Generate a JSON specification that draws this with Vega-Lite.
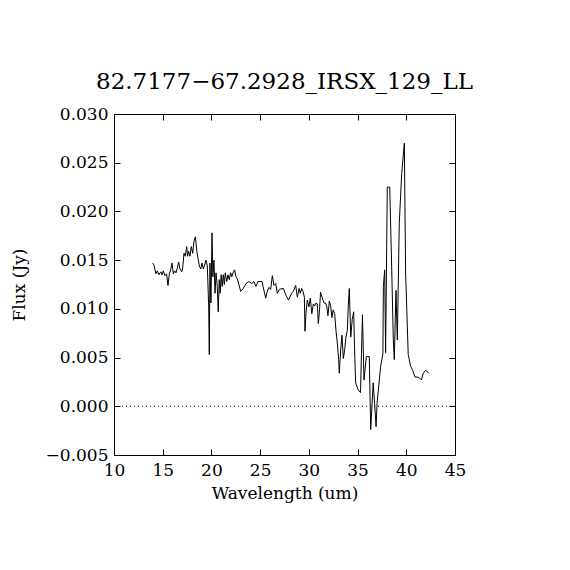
{
  "$schema": "https://vega.github.io/schema/vega-lite/v6.json",
  "width": 341,
  "height": 341,
  "autosize": {"type": "none"},
  "padding": {"left": 114, "top": 114, "right": 115, "bottom": 115},
  "background": "white",
  "title": {
    "text": "82.7177−67.2928_IRSX_129_LL",
    "font": "DejaVu Serif",
    "fontSize": 23,
    "fontWeight": "normal",
    "color": "black",
    "anchor": "middle",
    "offset": 11
  },
  "config": {
    "view": {"stroke": "black", "strokeWidth": 1},
    "axis": {
      "domain": false,
      "grid": false,
      "tickColor": "black",
      "tickSize": -6,
      "labelFont": "DejaVu Serif",
      "labelFontSize": 17,
      "labelColor": "black",
      "labelFlush": false,
      "labelOverlap": false,
      "titleFont": "DejaVu Serif",
      "titleFontSize": 17,
      "titleFontWeight": "normal",
      "titleColor": "black"
    }
  },
  "data": {
    "values": [
      {"w": 13.97, "f": 0.0147}, {"w": 14.1, "f": 0.0145}, {"w": 14.3, "f": 0.0136}, {"w": 14.45, "f": 0.0139},
      {"w": 14.6, "f": 0.0135}, {"w": 14.8, "f": 0.0138}, {"w": 14.93, "f": 0.0135}, {"w": 15.06, "f": 0.0139},
      {"w": 15.23, "f": 0.0134}, {"w": 15.4, "f": 0.0136}, {"w": 15.54, "f": 0.0124}, {"w": 15.68, "f": 0.0136},
      {"w": 15.82, "f": 0.014}, {"w": 15.95, "f": 0.0147}, {"w": 16.09, "f": 0.0136}, {"w": 16.23, "f": 0.0139},
      {"w": 16.36, "f": 0.0137}, {"w": 16.5, "f": 0.0142}, {"w": 16.64, "f": 0.0148}, {"w": 16.77, "f": 0.0141},
      {"w": 16.95, "f": 0.0138}, {"w": 17.05, "f": 0.0142}, {"w": 17.18, "f": 0.0157}, {"w": 17.32, "f": 0.0154},
      {"w": 17.46, "f": 0.0164}, {"w": 17.55, "f": 0.0154}, {"w": 17.66, "f": 0.0159}, {"w": 17.8, "f": 0.0154},
      {"w": 17.93, "f": 0.0164}, {"w": 18.08, "f": 0.0157}, {"w": 18.2, "f": 0.0169}, {"w": 18.35, "f": 0.0174},
      {"w": 18.5, "f": 0.0159}, {"w": 18.62, "f": 0.0152}, {"w": 18.76, "f": 0.0144}, {"w": 18.9, "f": 0.0141},
      {"w": 19.03, "f": 0.0147}, {"w": 19.17, "f": 0.0141}, {"w": 19.3, "f": 0.0145}, {"w": 19.44, "f": 0.015},
      {"w": 19.58, "f": 0.0144}, {"w": 19.72, "f": 0.0102}, {"w": 19.78, "f": 0.0053}, {"w": 19.85, "f": 0.0147},
      {"w": 19.95, "f": 0.0106}, {"w": 20.06, "f": 0.0178}, {"w": 20.15, "f": 0.0133}, {"w": 20.26, "f": 0.015},
      {"w": 20.37, "f": 0.0116}, {"w": 20.47, "f": 0.0137}, {"w": 20.6, "f": 0.0123}, {"w": 20.7, "f": 0.0097},
      {"w": 20.8, "f": 0.013}, {"w": 20.9, "f": 0.0116}, {"w": 21.0, "f": 0.0135}, {"w": 21.1, "f": 0.0123},
      {"w": 21.22, "f": 0.0135}, {"w": 21.32, "f": 0.0125}, {"w": 21.42, "f": 0.0137}, {"w": 21.57, "f": 0.0128},
      {"w": 21.7, "f": 0.0135}, {"w": 21.83, "f": 0.013}, {"w": 21.97, "f": 0.0137}, {"w": 22.1, "f": 0.0133},
      {"w": 22.25, "f": 0.0138}, {"w": 22.38, "f": 0.014}, {"w": 22.52, "f": 0.0133}, {"w": 22.65, "f": 0.0131},
      {"w": 22.82, "f": 0.0125}, {"w": 23.0, "f": 0.0118}, {"w": 23.27, "f": 0.0121}, {"w": 23.55, "f": 0.0126},
      {"w": 23.83, "f": 0.0128}, {"w": 24.13, "f": 0.0126}, {"w": 24.37, "f": 0.0128}, {"w": 24.57, "f": 0.0123},
      {"w": 24.78, "f": 0.0128}, {"w": 25.2, "f": 0.0128}, {"w": 25.3, "f": 0.0123}, {"w": 25.57, "f": 0.0111},
      {"w": 25.73, "f": 0.0118}, {"w": 25.9, "f": 0.0122}, {"w": 26.08, "f": 0.012}, {"w": 26.25, "f": 0.0134},
      {"w": 26.42, "f": 0.0124}, {"w": 26.6, "f": 0.0126}, {"w": 26.76, "f": 0.0116}, {"w": 26.97, "f": 0.012},
      {"w": 27.38, "f": 0.0121}, {"w": 27.65, "f": 0.0114}, {"w": 27.9, "f": 0.0109}, {"w": 28.24, "f": 0.0116},
      {"w": 28.4, "f": 0.0118}, {"w": 28.65, "f": 0.0124}, {"w": 28.82, "f": 0.0112}, {"w": 29.0, "f": 0.0121},
      {"w": 29.12, "f": 0.0116}, {"w": 29.27, "f": 0.0121}, {"w": 29.4, "f": 0.0118}, {"w": 29.54, "f": 0.0112},
      {"w": 29.6, "f": 0.0077}, {"w": 29.7, "f": 0.0095}, {"w": 29.84, "f": 0.0109}, {"w": 30.0, "f": 0.0102},
      {"w": 30.15, "f": 0.0111}, {"w": 30.3, "f": 0.0095}, {"w": 30.46, "f": 0.0105}, {"w": 30.6, "f": 0.0103},
      {"w": 30.73, "f": 0.0106}, {"w": 30.87, "f": 0.0105}, {"w": 30.97, "f": 0.0085}, {"w": 31.07, "f": 0.0095},
      {"w": 31.2, "f": 0.0117}, {"w": 31.35, "f": 0.0112}, {"w": 31.55, "f": 0.0106}, {"w": 31.7, "f": 0.0106},
      {"w": 31.83, "f": 0.0103}, {"w": 31.96, "f": 0.0093}, {"w": 32.1, "f": 0.0108}, {"w": 32.24, "f": 0.0103},
      {"w": 32.37, "f": 0.0091}, {"w": 32.5, "f": 0.0099}, {"w": 32.65, "f": 0.0095}, {"w": 32.78, "f": 0.0078},
      {"w": 32.92, "f": 0.0065}, {"w": 33.06, "f": 0.0048}, {"w": 33.12, "f": 0.0034}, {"w": 33.27, "f": 0.0058},
      {"w": 33.4, "f": 0.0073}, {"w": 33.54, "f": 0.0049}, {"w": 33.68, "f": 0.0058}, {"w": 33.8, "f": 0.0071},
      {"w": 33.95, "f": 0.0078}, {"w": 34.05, "f": 0.0104}, {"w": 34.15, "f": 0.0121}, {"w": 34.3, "f": 0.0071},
      {"w": 34.45, "f": 0.0089}, {"w": 34.6, "f": 0.0097}, {"w": 34.68, "f": 0.0063}, {"w": 34.8, "f": 0.0024},
      {"w": 35.05, "f": 0.0017}, {"w": 35.3, "f": 0.0014}, {"w": 35.4, "f": 0.0054}, {"w": 35.5, "f": 0.0094},
      {"w": 35.66, "f": 0.0027}, {"w": 35.9, "f": 0.0051}, {"w": 36.2, "f": 0.0051}, {"w": 36.35, "f": -0.0024},
      {"w": 36.6, "f": 0.0024}, {"w": 36.75, "f": 0.0003}, {"w": 36.9, "f": -0.0021}, {"w": 37.0, "f": 0.0003},
      {"w": 37.37, "f": 0.0041}, {"w": 37.6, "f": 0.0054}, {"w": 37.65, "f": 0.0123}, {"w": 37.78, "f": 0.014},
      {"w": 37.88, "f": 0.0055}, {"w": 38.05, "f": 0.0225}, {"w": 38.3, "f": 0.0225}, {"w": 38.5, "f": 0.0143},
      {"w": 38.67, "f": 0.0068}, {"w": 38.77, "f": 0.0048}, {"w": 38.94, "f": 0.0119}, {"w": 39.08, "f": 0.0068},
      {"w": 39.28, "f": 0.0188}, {"w": 39.53, "f": 0.0239}, {"w": 39.8, "f": 0.027}, {"w": 39.93, "f": 0.0137},
      {"w": 40.2, "f": 0.0053}, {"w": 40.45, "f": 0.0041}, {"w": 40.65, "f": 0.0037}, {"w": 40.9, "f": 0.003},
      {"w": 41.13, "f": 0.003}, {"w": 41.35, "f": 0.0029}, {"w": 41.55, "f": 0.0027}, {"w": 41.75, "f": 0.0034},
      {"w": 42.0, "f": 0.0037}, {"w": 42.3, "f": 0.0034}
    ]
  },
  "layer": [
    {
      "data": {"values": [{"zero": 0}]},
      "mark": {"type": "rule", "color": "black", "strokeWidth": 1, "strokeDash": [1, 3]},
      "encoding": {
        "y": {"field": "zero", "type": "quantitative", "axis": null, "scale": {"domain": [-0.005, 0.03], "nice": false, "zero": false}}
      }
    },
    {
      "mark": {"type": "line", "color": "black", "strokeWidth": 1, "clip": true},
      "encoding": {
        "x": {
          "field": "w",
          "type": "quantitative",
          "scale": {"domain": [10, 45], "nice": false, "zero": false},
          "axis": {"orient": "bottom", "values": [10, 15, 20, 25, 30, 35, 40, 45], "format": "d", "labelPadding": 13, "title": "Wavelength (um)", "titlePadding": 7}
        },
        "y": {
          "field": "f",
          "type": "quantitative",
          "scale": {"domain": [-0.005, 0.03], "nice": false, "zero": false},
          "axis": {"orient": "left", "values": [-0.005, 0, 0.005, 0.01, 0.015, 0.02, 0.025, 0.03], "format": ".3f", "labelPadding": 12, "title": "Flux (Jy)", "titlePadding": 17}
        }
      }
    },
    {
      "mark": {"type": "line", "strokeOpacity": 0},
      "encoding": {
        "x": {
          "field": "w",
          "type": "quantitative",
          "axis": {"orient": "top", "values": [10, 15, 20, 25, 30, 35, 40, 45], "labels": false, "title": null}
        },
        "y": {
          "field": "f",
          "type": "quantitative",
          "axis": {"orient": "right", "values": [-0.005, 0, 0.005, 0.01, 0.015, 0.02, 0.025, 0.03], "labels": false, "title": null}
        }
      }
    }
  ],
  "resolve": {"axis": {"x": "independent", "y": "independent"}}
}
